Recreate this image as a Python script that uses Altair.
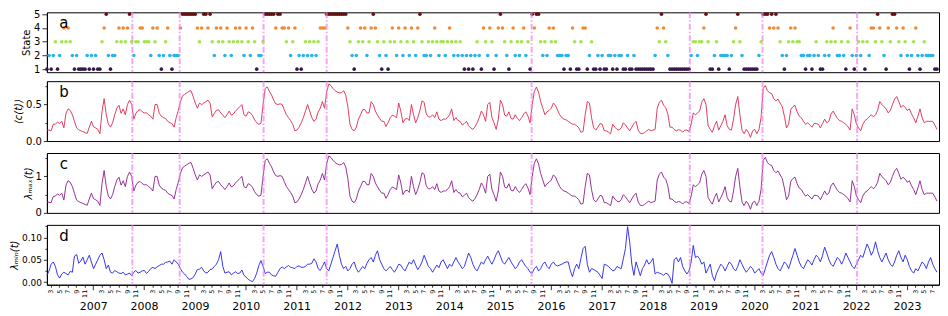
import altair as alt
import pandas as pd

# ---------------- data ----------------
T0 = 2006.09          # first sample (fractional year)
DT = 1.0 / 24.0       # half-month sampling
X_DOMAIN = [2006.09, 2023.63]

# market state at each half-month step, written in chunks
STATE_CHUNKS = [
    "12123123", "4343", "212", "1111", "212121", "1", "345", "2122", "3434345",
    "3233443332434", "2123421222", "45555555", "4345545", "324343243234",
    "34324324312", "23", "5555545", "54434234", "121232323234", "44",
    "5555555555", "43212", "343423", "4543213213", "4324324324324532",
    "2323432", "33234323", "23212121232", "14324312", "45432134", "2323423",
    "15455", "323243432", "221221431", "13441231", "12121122121221",
    "12112111111111", "243543", "2111111111", "1233233", "453", "112312222",
    "12345321", "11111123", "555454543", "212343433",
    "221221232112323432232", "134212323132", "443543214355", "4324321234",
    "2123222211",
]

MEAN_CORR = [
    0.15, 0.15, 0.14, 0.23, 0.23, 0.26, 0.24, 0.27, 0.18, 0.38,
    0.44, 0.42, 0.36, 0.27, 0.18, 0.155, 0.14, 0.13, 0.115, 0.105,
    0.19, 0.27, 0.195, 0.18, 0.16, 0.10, 0.40, 0.58, 0.36, 0.23,
    0.19, 0.25, 0.36, 0.45, 0.49, 0.38, 0.44, 0.36, 0.50, 0.56,
    0.50, 0.30, 0.38, 0.42, 0.43, 0.40, 0.385, 0.385, 0.36, 0.34,
    0.30, 0.50, 0.50, 0.38, 0.34, 0.32, 0.31, 0.27, 0.25, 0.24,
    0.19, 0.32, 0.42, 0.54, 0.62, 0.64, 0.66, 0.68, 0.69, 0.61,
    0.52, 0.45, 0.52, 0.50, 0.52, 0.54, 0.56, 0.52, 0.33, 0.38,
    0.42, 0.43, 0.385, 0.355, 0.32, 0.36, 0.41, 0.355, 0.37, 0.41,
    0.44, 0.47, 0.50, 0.36, 0.34, 0.40, 0.385, 0.35, 0.29, 0.25,
    0.23, 0.24, 0.50, 0.72, 0.74, 0.68, 0.63, 0.56, 0.51, 0.50,
    0.51, 0.50, 0.43, 0.36, 0.32, 0.28, 0.23, 0.14, 0.15, 0.19,
    0.25, 0.32, 0.41, 0.50, 0.41, 0.32, 0.27, 0.30, 0.40, 0.45,
    0.54, 0.45, 0.67, 0.78, 0.76, 0.72, 0.69, 0.67, 0.66, 0.66,
    0.69, 0.63, 0.47, 0.23, 0.16, 0.14, 0.19, 0.30, 0.36, 0.43,
    0.43, 0.385, 0.385, 0.54, 0.50, 0.41, 0.355, 0.31, 0.27, 0.27,
    0.20, 0.25, 0.32, 0.355, 0.34, 0.32, 0.52, 0.41, 0.25, 0.30,
    0.31, 0.28, 0.50, 0.36, 0.25, 0.32, 0.42, 0.55, 0.53, 0.37,
    0.33, 0.33, 0.36, 0.32, 0.40, 0.30, 0.28, 0.30, 0.30, 0.32,
    0.36, 0.44, 0.28, 0.32, 0.28, 0.27, 0.22, 0.24, 0.27, 0.21,
    0.18, 0.16, 0.195, 0.25, 0.32, 0.41, 0.36, 0.27, 0.50, 0.53,
    0.32, 0.25, 0.16, 0.30, 0.56, 0.50, 0.355, 0.34, 0.40, 0.31,
    0.30, 0.36, 0.31, 0.28, 0.32, 0.37, 0.40, 0.34, 0.25, 0.50,
    0.68, 0.74, 0.67, 0.54, 0.45, 0.36, 0.40, 0.42, 0.45, 0.52,
    0.49, 0.42, 0.36, 0.32, 0.30, 0.29, 0.27, 0.25, 0.23, 0.23,
    0.21, 0.18, 0.12, 0.13, 0.36, 0.54, 0.52, 0.32, 0.18, 0.15,
    0.19, 0.24, 0.23, 0.14, 0.14, 0.12, 0.10, 0.23, 0.19, 0.16,
    0.15, 0.18, 0.25, 0.22, 0.18, 0.14, 0.19, 0.24, 0.27, 0.15,
    0.105, 0.10, 0.115, 0.14, 0.16, 0.14, 0.15, 0.16, 0.45, 0.53,
    0.56, 0.49, 0.46, 0.37, 0.19, 0.19, 0.16, 0.14, 0.155, 0.15,
    0.12, 0.15, 0.15, 0.13, 0.23, 0.385, 0.36, 0.385, 0.41, 0.53,
    0.58, 0.50, 0.21, 0.16, 0.12, 0.21, 0.27, 0.15, 0.21, 0.27,
    0.36, 0.21, 0.16, 0.15, 0.30, 0.50, 0.61, 0.36, 0.15, 0.10,
    0.16, 0.12, 0.05, 0.14, 0.16, 0.10, 0.16, 0.32, 0.72, 0.76,
    0.69, 0.66, 0.65, 0.58, 0.55, 0.575, 0.52, 0.47, 0.34, 0.18,
    0.23, 0.43, 0.47, 0.49, 0.40, 0.34, 0.32, 0.27, 0.23, 0.25,
    0.22, 0.19, 0.24, 0.24, 0.23, 0.18, 0.24, 0.30, 0.25, 0.27,
    0.37, 0.41, 0.36, 0.31, 0.28, 0.27, 0.25, 0.23, 0.195, 0.15,
    0.44, 0.36, 0.23, 0.18, 0.14, 0.23, 0.28, 0.30, 0.33, 0.36,
    0.33, 0.36, 0.42, 0.54, 0.50, 0.47, 0.44, 0.385, 0.42, 0.50,
    0.575, 0.61, 0.54, 0.46, 0.49, 0.46, 0.42, 0.44, 0.37, 0.32,
    0.25, 0.34, 0.44, 0.32, 0.25, 0.27, 0.27, 0.27, 0.27, 0.22, 0.16,
]

LAMBDA_MAX = [
    0.30, 0.29, 0.28, 0.45, 0.46, 0.52, 0.48, 0.54, 0.35, 0.76,
    0.88, 0.84, 0.72, 0.54, 0.35, 0.31, 0.28, 0.26, 0.23, 0.21,
    0.38, 0.54, 0.39, 0.36, 0.32, 0.20, 0.80, 1.16, 0.72, 0.46,
    0.38, 0.50, 0.72, 0.90, 0.98, 0.76, 0.88, 0.72, 1.00, 1.12,
    1.00, 0.60, 0.76, 0.84, 0.86, 0.80, 0.77, 0.77, 0.72, 0.68,
    0.60, 1.00, 1.00, 0.76, 0.68, 0.64, 0.62, 0.54, 0.50, 0.48,
    0.38, 0.64, 0.84, 1.08, 1.24, 1.28, 1.32, 1.36, 1.38, 1.22,
    1.04, 0.90, 1.04, 1.00, 1.04, 1.08, 1.12, 1.04, 0.66, 0.76,
    0.84, 0.86, 0.77, 0.71, 0.64, 0.72, 0.82, 0.71, 0.74, 0.82,
    0.88, 0.94, 1.00, 0.72, 0.68, 0.80, 0.77, 0.70, 0.58, 0.50,
    0.46, 0.48, 1.00, 1.44, 1.48, 1.36, 1.26, 1.12, 1.02, 1.00,
    1.02, 1.00, 0.86, 0.72, 0.64, 0.56, 0.46, 0.28, 0.30, 0.38,
    0.50, 0.64, 0.82, 1.00, 0.82, 0.64, 0.54, 0.60, 0.80, 0.90,
    1.08, 0.90, 1.34, 1.56, 1.52, 1.44, 1.38, 1.34, 1.32, 1.32,
    1.38, 1.26, 0.94, 0.46, 0.32, 0.28, 0.38, 0.60, 0.72, 0.86,
    0.86, 0.77, 0.77, 1.08, 1.00, 0.82, 0.71, 0.62, 0.54, 0.54,
    0.40, 0.50, 0.64, 0.71, 0.68, 0.64, 1.04, 0.82, 0.50, 0.60,
    0.62, 0.56, 1.00, 0.72, 0.50, 0.64, 0.84, 1.10, 1.06, 0.74,
    0.66, 0.66, 0.72, 0.64, 0.80, 0.60, 0.56, 0.60, 0.60, 0.64,
    0.72, 0.88, 0.56, 0.64, 0.56, 0.54, 0.44, 0.48, 0.54, 0.42,
    0.36, 0.32, 0.39, 0.50, 0.64, 0.82, 0.72, 0.54, 1.00, 1.06,
    0.64, 0.50, 0.32, 0.60, 1.12, 1.00, 0.71, 0.68, 0.80, 0.62,
    0.60, 0.72, 0.62, 0.56, 0.64, 0.74, 0.80, 0.68, 0.50, 1.00,
    1.36, 1.48, 1.34, 1.08, 0.90, 0.72, 0.80, 0.84, 0.90, 1.04,
    0.98, 0.84, 0.72, 0.64, 0.60, 0.58, 0.54, 0.50, 0.46, 0.46,
    0.42, 0.36, 0.24, 0.26, 0.72, 1.08, 1.04, 0.64, 0.36, 0.30,
    0.38, 0.48, 0.46, 0.28, 0.28, 0.24, 0.20, 0.46, 0.38, 0.32,
    0.30, 0.36, 0.50, 0.44, 0.36, 0.28, 0.38, 0.48, 0.54, 0.30,
    0.21, 0.20, 0.23, 0.28, 0.32, 0.28, 0.30, 0.32, 0.90, 1.06,
    1.12, 0.98, 0.92, 0.74, 0.38, 0.38, 0.32, 0.28, 0.31, 0.30,
    0.24, 0.30, 0.30, 0.26, 0.46, 0.77, 0.72, 0.77, 0.82, 1.06,
    1.16, 1.00, 0.42, 0.32, 0.24, 0.42, 0.54, 0.30, 0.42, 0.54,
    0.72, 0.42, 0.32, 0.30, 0.60, 1.00, 1.22, 0.72, 0.30, 0.20,
    0.32, 0.24, 0.10, 0.28, 0.32, 0.20, 0.32, 0.64, 1.44, 1.52,
    1.38, 1.32, 1.30, 1.16, 1.10, 1.15, 1.04, 0.94, 0.68, 0.36,
    0.46, 0.86, 0.94, 0.98, 0.80, 0.68, 0.64, 0.54, 0.46, 0.50,
    0.44, 0.38, 0.48, 0.48, 0.46, 0.36, 0.48, 0.60, 0.50, 0.54,
    0.74, 0.82, 0.72, 0.62, 0.56, 0.54, 0.50, 0.46, 0.39, 0.30,
    0.88, 0.72, 0.46, 0.36, 0.28, 0.46, 0.56, 0.60, 0.66, 0.72,
    0.66, 0.72, 0.84, 1.08, 1.00, 0.94, 0.88, 0.77, 0.84, 1.00,
    1.15, 1.22, 1.08, 0.92, 0.98, 0.92, 0.84, 0.88, 0.74, 0.64,
    0.50, 0.68, 0.88, 0.64, 0.50, 0.54, 0.54, 0.54, 0.54, 0.44, 0.32,
]

LAMBDA_MIN = [
    0.015, 0.025, 0.040, 0.045, 0.035, 0.016, 0.009, 0.018, 0.022, 0.019,
    0.016, 0.024, 0.022, 0.058, 0.062, 0.042, 0.047, 0.056, 0.040, 0.050,
    0.060, 0.045, 0.030, 0.040, 0.050, 0.060, 0.065, 0.050, 0.030, 0.038,
    0.022, 0.020, 0.026, 0.023, 0.020, 0.019, 0.022, 0.016, 0.018, 0.020,
    0.014, 0.022, 0.026, 0.020, 0.022, 0.025, 0.026, 0.019, 0.024, 0.030,
    0.033, 0.030, 0.034, 0.037, 0.040, 0.040, 0.044, 0.045, 0.047, 0.040,
    0.050, 0.045, 0.040, 0.030, 0.022, 0.018, 0.012, 0.006, 0.007, 0.010,
    0.018, 0.028, 0.029, 0.033, 0.025, 0.020, 0.022, 0.028, 0.029, 0.035,
    0.040, 0.050, 0.068, 0.035, 0.020, 0.022, 0.023, 0.016, 0.020, 0.023,
    0.019, 0.020, 0.027, 0.015, 0.011, 0.006, 0.003, 0.001, 0.008, 0.020,
    0.037, 0.048, 0.035, 0.019, 0.022, 0.022, 0.016, 0.014, 0.013, 0.022,
    0.030, 0.034, 0.030, 0.034, 0.037, 0.033, 0.032, 0.030, 0.035, 0.036,
    0.033, 0.033, 0.035, 0.040, 0.040, 0.042, 0.052, 0.045, 0.030, 0.026,
    0.035, 0.045, 0.030, 0.025, 0.040, 0.055, 0.070, 0.085, 0.060, 0.040,
    0.030, 0.035, 0.025, 0.030, 0.040, 0.045, 0.030, 0.022, 0.028, 0.035,
    0.030, 0.042, 0.050, 0.055, 0.045, 0.060, 0.070, 0.050, 0.040, 0.030,
    0.025, 0.030, 0.035, 0.028, 0.022, 0.030, 0.040, 0.038, 0.030, 0.025,
    0.035, 0.045, 0.040, 0.050, 0.038, 0.028, 0.035, 0.045, 0.060, 0.048,
    0.035, 0.030, 0.022, 0.030, 0.038, 0.032, 0.045, 0.050, 0.040, 0.030,
    0.040, 0.035, 0.045, 0.055, 0.045, 0.038, 0.030, 0.035, 0.050, 0.065,
    0.055, 0.040, 0.030, 0.025, 0.035, 0.045, 0.040, 0.050, 0.058, 0.048,
    0.040, 0.050, 0.062, 0.070, 0.058, 0.045, 0.040, 0.048, 0.055, 0.045,
    0.038, 0.030, 0.035, 0.045, 0.050, 0.042, 0.035, 0.030, 0.022, 0.020,
    0.030, 0.035, 0.025, 0.030, 0.040, 0.045, 0.035, 0.030, 0.040, 0.045,
    0.038, 0.036, 0.038, 0.040, 0.043, 0.045, 0.045, 0.025, 0.012, 0.030,
    0.040, 0.030, 0.053, 0.075, 0.080, 0.040, 0.022, 0.030, 0.028, 0.025,
    0.022, 0.015, 0.008, 0.040, 0.038, 0.035, 0.030, 0.025, 0.027, 0.035,
    0.032, 0.030, 0.052, 0.075, 0.124, 0.090, 0.040, 0.015, 0.045, 0.030,
    0.014, 0.030, 0.038, 0.050, 0.040, 0.045, 0.053, 0.018, 0.022, 0.020,
    0.018, 0.015, 0.020, 0.018, 0.010, -0.003, 0.050, 0.055, 0.045, 0.055,
    0.035, 0.025, 0.018, 0.025, 0.045, 0.082, 0.055, 0.058, 0.052, 0.040,
    0.045, 0.020, 0.030, 0.040, 0.015, 0.003, 0.020, 0.030, 0.040, 0.035,
    0.025, 0.035, 0.045, 0.040, 0.030, 0.025, 0.035, 0.050, 0.040, 0.030,
    0.022, 0.028, 0.035, 0.030, 0.020, 0.025, 0.030, 0.020, 0.015, 0.030,
    0.045, 0.060, 0.068, 0.055, 0.040, 0.030, 0.025, 0.035, 0.045, 0.040,
    0.030, 0.045, 0.060, 0.075, 0.060, 0.045, 0.035, 0.030, 0.040, 0.050,
    0.045, 0.038, 0.050, 0.060, 0.055, 0.045, 0.060, 0.078, 0.065, 0.050,
    0.040, 0.035, 0.045, 0.055, 0.050, 0.040, 0.050, 0.065, 0.055, 0.045,
    0.035, 0.030, 0.040, 0.050, 0.060, 0.055, 0.070, 0.085, 0.075, 0.060,
    0.070, 0.090, 0.070, 0.055, 0.045, 0.055, 0.065, 0.050, 0.040, 0.035,
    0.045, 0.060, 0.070, 0.055, 0.045, 0.060, 0.050, 0.035, 0.025, 0.020,
    0.030, 0.025, 0.035, 0.045, 0.040, 0.030, 0.045, 0.055, 0.040, 0.030, 0.022,
]

EVENTS = [2007.77, 2008.70, 2010.35, 2011.59, 2015.62, 2018.73, 2020.16, 2022.02]
YEARS = list(range(2007, 2024))
STATE_LEVELS = [1, 2, 3, 4, 5]
STATE_COLORS = ["#38184c", "#2cb3e6", "#a3e54f", "#f5892f", "#6b0d10"]

# ---------------- tables ----------------
states = [int(ch) for ch in "".join(STATE_CHUNKS)]
state_df = pd.DataFrame({"t": [T0 + i * DT for i in range(len(states))], "state": states})


def series_df(vals):
    return pd.DataFrame({"t": [T0 + i * DT for i in range(len(vals))], "v": vals})


ev_df = pd.DataFrame({"t": EVENTS})
year_df = pd.DataFrame({"t": [float(y) for y in YEARS]})

month_ticks = [y + (m - 1) / 12.0 for y in range(2006, 2024) for m in (1, 3, 5, 7, 9, 11)]
month_ticks = [v for v in month_ticks if X_DOMAIN[0] <= v <= X_DOMAIN[1]]

# ---------------- layout ----------------
W, H = 894, 60
FONT = "DejaVu Sans"
xscale = alt.Scale(domain=X_DOMAIN, nice=False, zero=False)
MAJOR = "abs(datum.value - round(datum.value)) < 0.001"
MONTH = "(round((datum.value - floor(datum.value)) * 12) + 1)"


def x_axis(show_labels):
    kw = dict(values=month_ticks, title=None, grid=False, orient="bottom",
              tickSize={"condition": {"test": MAJOR, "value": 5}, "value": 2.5})
    if show_labels:
        kw.update(labels=True, labelExpr=f"{MONTH} == 1 ? '' : '' + {MONTH}",
                  labelAngle=-90, labelFontSize=6.5, labelPadding=2)
    else:
        kw.update(labels=False)
    return alt.Axis(**kw)


def event_rules():
    return alt.Chart(ev_df).mark_rule(
        color="#ee82ee", strokeWidth=2, opacity=0.7, strokeDash=[6, 2, 1.5, 2]
    ).encode(x=alt.X("t:Q", scale=xscale, axis=None))


def letter(ch):
    return alt.Chart(pd.DataFrame({"lab": [ch]})).mark_text(
        fontSize=15, font=FONT, color="black", align="center", baseline="middle"
    ).encode(text="lab:N", x=alt.value(17), y=alt.value(11))


def yaxis(values, label_expr, minor_test, title, italic=True, label_size=10):
    kw = dict(values=values, labelExpr=label_expr, title=title, grid=False,
              labelFontSize=label_size,
              tickSize={"condition": {"test": minor_test, "value": 2}, "value": 3.5})
    if italic:
        kw["titleFontStyle"] = "italic"
    return alt.Axis(**kw)


# panel a: states
pts = alt.Chart(state_df).mark_circle(size=13, opacity=1).encode(
    x=alt.X("t:Q", scale=xscale, axis=x_axis(False)),
    y=alt.Y("state:Q", scale=alt.Scale(domain=[0.78, 5.14], nice=False, zero=False),
            axis=alt.Axis(values=STATE_LEVELS, format="d", title="State", grid=False)),
    color=alt.Color("state:N", scale=alt.Scale(domain=STATE_LEVELS, range=STATE_COLORS), legend=None),
)
panel_a = alt.layer(pts, event_rules(), letter("a")).properties(width=W, height=H)


def line_panel(vals, color, ydom, yax, ch, bottom=False):
    line = alt.Chart(series_df(vals)).mark_line(color=color, strokeWidth=0.9).encode(
        x=alt.X("t:Q", scale=xscale, axis=x_axis(bottom)),
        y=alt.Y("v:Q", scale=alt.Scale(domain=ydom, nice=False, zero=False), axis=yax),
    )
    layers = [line, event_rules(), letter(ch)]
    if bottom:
        yrs = alt.Chart(year_df).mark_point(opacity=0).encode(
            x=alt.X("t:Q", scale=xscale,
                    axis=alt.Axis(orient="bottom", values=YEARS, format="d", ticks=False,
                                  domain=False, labelPadding=16, labelFontSize=11,
                                  labelAngle=0, title=None, grid=False))
        )
        layers.append(yrs)
        return alt.layer(*layers).resolve_axis(x="independent").properties(width=W, height=H)
    return alt.layer(*layers).properties(width=W, height=H)


panel_b = line_panel(
    MEAN_CORR, "#e0284f", [0, 0.82],
    yaxis([0, 0.25, 0.5, 0.75], "datum.value == 0 ? '0.0' : (datum.value == 0.5 ? '0.5' : '')",
          "datum.value == 0.25 || datum.value == 0.75", "⟨c(t)⟩"), "b")
panel_c = line_panel(
    LAMBDA_MAX, "#8c1c8c", [0, 1.64],
    yaxis([0, 0.5, 1, 1.5], "datum.value == 0 ? '0' : (datum.value == 1 ? '1' : '')",
          "datum.value == 0.5 || datum.value == 1.5", "λₘₐₓ(t)"), "c")
panel_d = line_panel(
    LAMBDA_MIN, "#2222ee", [-0.006, 0.128],
    yaxis([0, 0.025, 0.05, 0.075, 0.1, 0.125],
          "abs(datum.value - 0.025) < 1e-6 || abs(datum.value - 0.075) < 1e-6 || abs(datum.value - 0.125) < 1e-6 ? '' : format(datum.value, '.2f')",
          "abs(datum.value - 0.025) < 1e-6 || abs(datum.value - 0.075) < 1e-6 || abs(datum.value - 0.125) < 1e-6",
          "λₘᵢₙ(t)", label_size=9), "d", bottom=True)

chart = alt.vconcat(panel_a, panel_b, panel_c, panel_d, spacing=4).properties(
    padding={"left": 0, "top": 0, "right": 0, "bottom": 0}
).configure(font=FONT).configure_view(
    stroke="black", strokeWidth=1
).configure_axis(
    domainColor="black", tickColor="black", labelColor="black", titleColor="black",
    labelFont=FONT, titleFont=FONT, labelFontSize=10, titleFontSize=10,
    titleFontWeight="normal", labelPadding=2, titlePadding=2, tickWidth=0.8, domainWidth=1,
)

chart.save("out.html", embed_options={"renderer": "svg", "actions": False})
